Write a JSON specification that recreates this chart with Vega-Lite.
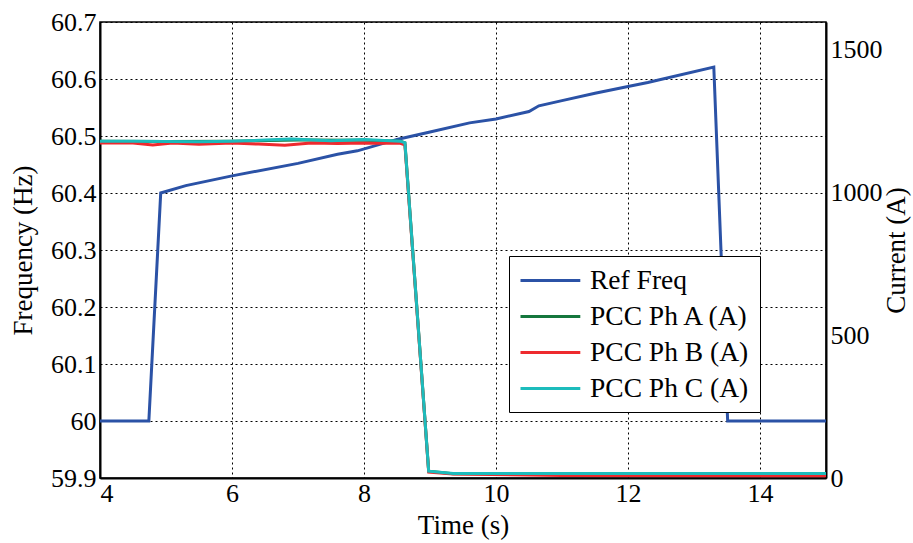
{
  "$schema": "https://vega.github.io/schema/vega-lite/v6.json",
  "width": 726,
  "height": 456,
  "autosize": {"type": "none"},
  "padding": {"left": 100, "top": 22, "right": 87, "bottom": 65},
  "background": "white",
  "config": {
    "view": {"stroke": "black", "strokeWidth": 1.5},
    "font": "Liberation Serif",
    "axis": {
      "labelFont": "Liberation Serif",
      "titleFont": "Liberation Serif",
      "labelFontSize": 26,
      "titleFontSize": 27,
      "labelColor": "black",
      "titleColor": "black",
      "titleFontWeight": "normal",
      "domainColor": "black",
      "domainWidth": 2,
      "ticks": false,
      "gridColor": "black",
      "gridDash": [2, 3],
      "gridOpacity": 1,
      "gridWidth": 1
    },
    "legend": {
      "labelFont": "Liberation Serif",
      "labelFontSize": 27.5,
      "labelColor": "black"
    }
  },
  "datasets": {
    "freq": [
      {"t": 4, "f": 60.0, "series": "Ref Freq"},
      {"t": 4.74, "f": 60.0, "series": "Ref Freq"},
      {"t": 4.92, "f": 60.4, "series": "Ref Freq"},
      {"t": 5.3, "f": 60.413, "series": "Ref Freq"},
      {"t": 6, "f": 60.43, "series": "Ref Freq"},
      {"t": 7, "f": 60.452, "series": "Ref Freq"},
      {"t": 7.6, "f": 60.468, "series": "Ref Freq"},
      {"t": 7.9, "f": 60.474, "series": "Ref Freq"},
      {"t": 8.5, "f": 60.494, "series": "Ref Freq"},
      {"t": 9, "f": 60.507, "series": "Ref Freq"},
      {"t": 9.6, "f": 60.523, "series": "Ref Freq"},
      {"t": 10, "f": 60.53, "series": "Ref Freq"},
      {"t": 10.5, "f": 60.543, "series": "Ref Freq"},
      {"t": 10.65, "f": 60.553, "series": "Ref Freq"},
      {"t": 11, "f": 60.562, "series": "Ref Freq"},
      {"t": 11.5, "f": 60.575, "series": "Ref Freq"},
      {"t": 12, "f": 60.587, "series": "Ref Freq"},
      {"t": 12.3, "f": 60.594, "series": "Ref Freq"},
      {"t": 13.3, "f": 60.621, "series": "Ref Freq"},
      {"t": 13.51, "f": 60.0, "series": "Ref Freq"},
      {"t": 15, "f": 60.0, "series": "Ref Freq"}
    ],
    "cur": [
      {"t": 4, "a": 1178, "series": "PCC Ph A (A)"},
      {"t": 5, "a": 1177, "series": "PCC Ph A (A)"},
      {"t": 6, "a": 1178, "series": "PCC Ph A (A)"},
      {"t": 7, "a": 1182, "series": "PCC Ph A (A)"},
      {"t": 8, "a": 1181, "series": "PCC Ph A (A)"},
      {"t": 8.55, "a": 1178, "series": "PCC Ph A (A)"},
      {"t": 8.62, "a": 1172, "series": "PCC Ph A (A)"},
      {"t": 8.98, "a": 24, "series": "PCC Ph A (A)"},
      {"t": 9.35, "a": 15, "series": "PCC Ph A (A)"},
      {"t": 15, "a": 14, "series": "PCC Ph A (A)"},

      {"t": 4, "a": 1172, "series": "PCC Ph B (A)"},
      {"t": 4.5, "a": 1172, "series": "PCC Ph B (A)"},
      {"t": 4.8, "a": 1165, "series": "PCC Ph B (A)"},
      {"t": 5.1, "a": 1172, "series": "PCC Ph B (A)"},
      {"t": 5.5, "a": 1167, "series": "PCC Ph B (A)"},
      {"t": 6, "a": 1172, "series": "PCC Ph B (A)"},
      {"t": 6.4, "a": 1168, "series": "PCC Ph B (A)"},
      {"t": 6.8, "a": 1164, "series": "PCC Ph B (A)"},
      {"t": 7.2, "a": 1172, "series": "PCC Ph B (A)"},
      {"t": 7.6, "a": 1170, "series": "PCC Ph B (A)"},
      {"t": 8, "a": 1172, "series": "PCC Ph B (A)"},
      {"t": 8.55, "a": 1171, "series": "PCC Ph B (A)"},
      {"t": 8.62, "a": 1165, "series": "PCC Ph B (A)"},
      {"t": 8.98, "a": 21, "series": "PCC Ph B (A)"},
      {"t": 9.35, "a": 14, "series": "PCC Ph B (A)"},
      {"t": 11, "a": 9, "series": "PCC Ph B (A)"},
      {"t": 15, "a": 8, "series": "PCC Ph B (A)"},

      {"t": 4, "a": 1178, "series": "PCC Ph C (A)"},
      {"t": 4.5, "a": 1178, "series": "PCC Ph C (A)"},
      {"t": 5, "a": 1177, "series": "PCC Ph C (A)"},
      {"t": 5.5, "a": 1176, "series": "PCC Ph C (A)"},
      {"t": 6, "a": 1178, "series": "PCC Ph C (A)"},
      {"t": 6.5, "a": 1182, "series": "PCC Ph C (A)"},
      {"t": 6.9, "a": 1186, "series": "PCC Ph C (A)"},
      {"t": 7.5, "a": 1180, "series": "PCC Ph C (A)"},
      {"t": 8, "a": 1184, "series": "PCC Ph C (A)"},
      {"t": 8.55, "a": 1178, "series": "PCC Ph C (A)"},
      {"t": 8.62, "a": 1172, "series": "PCC Ph C (A)"},
      {"t": 8.98, "a": 24, "series": "PCC Ph C (A)"},
      {"t": 9.35, "a": 16, "series": "PCC Ph C (A)"},
      {"t": 15, "a": 16, "series": "PCC Ph C (A)"}
    ]
  },
  "layer": [
    {
      "data": {"name": "freq"},
      "mark": {"type": "line", "strokeWidth": 3, "clip": true},
      "encoding": {
        "x": {
          "field": "t", "type": "quantitative",
          "scale": {"domain": [4, 15], "nice": false},
          "axis": {"values": [4, 6, 8, 10, 12, 14], "format": "d", "title": "Time (s)", "grid": true, "labelPadding": 2, "titlePadding": 6}
        },
        "y": {
          "field": "f", "type": "quantitative",
          "scale": {"domain": [59.9, 60.7], "nice": false, "zero": false},
          "axis": {"values": [59.9, 60, 60.1, 60.2, 60.3, 60.4, 60.5, 60.6, 60.7], "format": ".4~r", "title": "Frequency (Hz)", "grid": true, "labelPadding": 4, "titlePadding": 13}
        },
        "color": {
          "field": "series", "type": "nominal",
          "scale": {
            "domain": ["Ref Freq", "PCC Ph A (A)", "PCC Ph B (A)", "PCC Ph C (A)"],
            "range": ["#2b52a6", "#15773d", "#ee2a2e", "#1cbcbc"]
          },
          "legend": {
            "title": null,
            "orient": "none",
            "legendX": 409,
            "legendY": 234,
            "direction": "vertical",
            "strokeColor": "black",
            "fillColor": "white",
            "padding": 10,
            "symbolType": "M-1,0H3.6",
            "symbolSize": 676,
            "symbolStrokeWidth": 3,
            "labelOffset": 42,
            "rowPadding": 8,
            "labelLimit": 400
          }
        }
      }
    },
    {
      "data": {"name": "cur"},
      "encoding": {
        "x": {"field": "t", "type": "quantitative"},
        "y": {
          "field": "a", "type": "quantitative",
          "scale": {"domain": [0, 1595], "nice": false},
          "axis": {"orient": "right", "values": [0, 500, 1000, 1500], "format": "d", "title": "Current (A)", "grid": false, "titleAngle": 270, "titleBaseline": "top", "labelPadding": 4, "titlePadding": 1}
        },
        "color": {"field": "series", "type": "nominal"}
      },
      "layer": [
        {"transform": [{"filter": "datum.series === 'PCC Ph A (A)'"}], "mark": {"type": "line", "strokeWidth": 3, "clip": true}},
        {"transform": [{"filter": "datum.series === 'PCC Ph B (A)'"}], "mark": {"type": "line", "strokeWidth": 3, "clip": true}},
        {"transform": [{"filter": "datum.series === 'PCC Ph C (A)'"}], "mark": {"type": "line", "strokeWidth": 3, "clip": true}}
      ]
    }
  ],
  "resolve": {"scale": {"y": "independent"}}
}
